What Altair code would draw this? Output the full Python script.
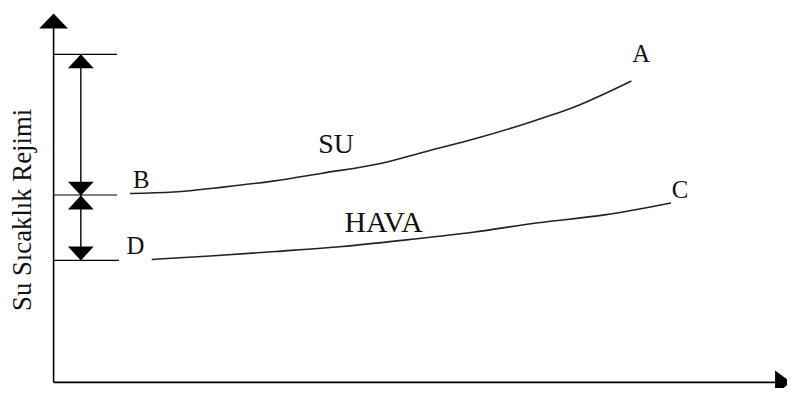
import altair as alt
import pandas as pd

# --- schematic data (arbitrary units; origin at the axes' corner) ---
# SU (water) curve, from B to A
su_x = [77, 121, 171, 221, 271, 331, 376, 426, 476, 526, 583]
su_y = [190.5, 192, 197, 203, 211, 221, 233, 246, 261, 278, 304]
# HAVA (air) curve, from D to C
hava_x = [99, 158, 224, 291, 358, 423, 489, 556, 623]
hava_y = [124, 127.5, 132, 137, 144, 151.5, 161, 169, 181]

# reference levels (top, B, D) and their short guide lines
level_y = [331, 189, 123]
level_x2 = [64, 64, 66]
arrow_x = 27.5  # vertical double-arrow position

# arrowheads on the double arrows
up_heads_y = [324, 181.5]
down_heads_y = [195.5, 130]

# axes extents
y_axis_top = 364
x_axis_right = 731

# point labels
lab_text = ["A", "B", "C", "D"]
lab_x = [593, 88.5, 632, 82.5]
lab_y = [331, 204, 194, 138]

curve_text = ["SU", "HAVA"]
curve_x = [285, 333]
curve_y = [239, 160.5]
curve_size = [28, 30]

y_title = "Su Sıcaklık Rejimi"

FONT = "Liberation Serif, Times New Roman, Times, serif"

# --- scales ---
xs = alt.Scale(domain=[-46, 740], nice=False, zero=False)
ys = alt.Scale(domain=[-4, 376], nice=False, zero=False)

def X(f="x"):
    return alt.X(f"{f}:Q", scale=xs, axis=None)

def Y(f="y"):
    return alt.Y(f"{f}:Q", scale=ys, axis=None)

curves = pd.concat([
    pd.DataFrame({"x": su_x, "y": su_y, "s": "SU"}),
    pd.DataFrame({"x": hava_x, "y": hava_y, "s": "HAVA"}),
])

lines = alt.Chart(curves).mark_line(
    color="#222222", strokeWidth=1.6, interpolate="monotone"
).encode(x=X(), y=Y(), detail="s:N")

# axes drawn as rules
axes_df = pd.DataFrame({
    "x": [0, 0], "x2": [0, x_axis_right],
    "y": [0, 0], "y2": [y_axis_top, 0],
})
axes = alt.Chart(axes_df).mark_rule(color="black", strokeWidth=1.6).encode(
    x=X(), x2="x2:Q", y=Y(), y2="y2:Q"
)

levels_df = pd.DataFrame({"x": [0] * 3, "x2": level_x2, "y": level_y})
levels = alt.Chart(levels_df).mark_rule(color="black", strokeWidth=1.2).encode(
    x=X(), x2="x2:Q", y=Y()
)

varrow_df = pd.DataFrame({"x": [arrow_x], "y": [level_y[2]], "y2": [level_y[0]]})
varrow = alt.Chart(varrow_df).mark_rule(color="black", strokeWidth=1.4).encode(
    x=X(), y=Y(), y2="y2:Q"
)

UP = "M-1,0.54L1,0.54L0,-0.54Z"
DOWN = "M-1,-0.54L1,-0.54L0,0.54Z"
RIGHT = "M-0.67,-1L-0.67,1L0.67,0Z"

up_heads = alt.Chart(pd.DataFrame({"x": [arrow_x] * 2, "y": up_heads_y})).mark_point(
    shape=UP, size=676, filled=True, color="black", opacity=1, strokeWidth=0
).encode(x=X(), y=Y())

down_heads = alt.Chart(pd.DataFrame({"x": [arrow_x] * 2, "y": down_heads_y})).mark_point(
    shape=DOWN, size=676, filled=True, color="black", opacity=1, strokeWidth=0
).encode(x=X(), y=Y())

yhead = alt.Chart(pd.DataFrame({"x": [0], "y": [y_axis_top + 0.5]})).mark_point(
    shape="M-1,0.52L1,0.52L0,-0.52Z", size=841, filled=True, color="black",
    opacity=1, strokeWidth=0
).encode(x=X(), y=Y())

xhead = alt.Chart(pd.DataFrame({"x": [x_axis_right + 5], "y": [0]})).mark_point(
    shape=RIGHT, size=576, filled=True, color="black", opacity=1, strokeWidth=0
).encode(x=X(), y=Y())

labels = alt.Chart(pd.DataFrame({"t": lab_text, "x": lab_x, "y": lab_y})).mark_text(
    font=FONT, fontSize=25, color="#111111", align="center",
    baseline="middle"
).encode(x=X(), y=Y(), text="t:N")

clabels = alt.Chart(pd.DataFrame({"t": curve_text, "x": curve_x, "y": curve_y,
                                  "fs": curve_size})).mark_text(
    font=FONT, color="#111111", align="center", baseline="middle"
).encode(x=X(), y=Y(), text="t:N",
         size=alt.Size("fs:Q", scale=None, legend=None))

ytitle = alt.Chart(pd.DataFrame({"t": [y_title], "x": [-30.5], "y": [174]})).mark_text(
    font=FONT, fontSize=27, color="#111111", angle=270,
    align="center", baseline="middle"
).encode(x=X(), y=Y(), text="t:N")

chart = alt.layer(
    axes, levels, varrow, lines, up_heads, down_heads, yhead, xhead,
    labels, clabels, ytitle
).properties(
    width=786, height=380, padding=0, autosize=alt.AutoSizeParams(type="none"),
    background="white"
).configure_view(stroke=None)

chart.save("out.html", embed_options={"renderer": "svg", "actions": False})
